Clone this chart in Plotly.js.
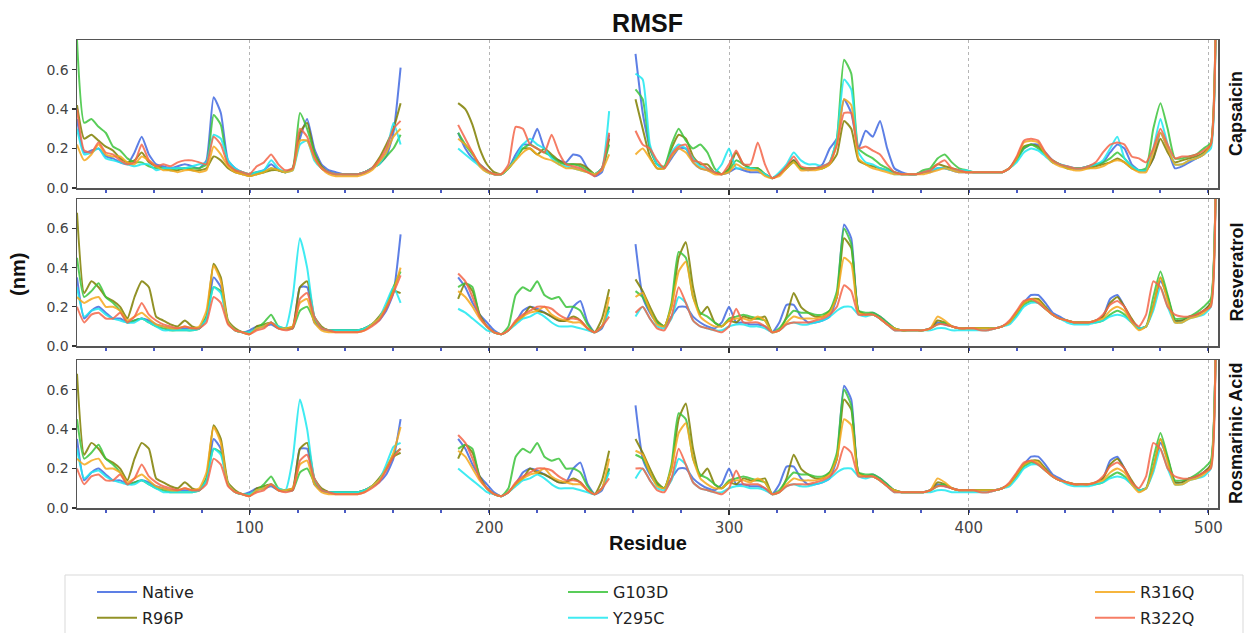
<!DOCTYPE html>
<html><head><meta charset="utf-8">
<script src="https://cdn.plot.ly/plotly-3.0.1.min.js"></script>
<style>html,body{margin:0;padding:0;background:#fff}#chart{width:1248px;height:633px}</style>
</head><body><div id="chart"></div>
<script>
// residue positions of the three resolved segments
const resA = [28,31,34,37,40,43,46,49,52,55,58,61,64,67,70,73,76,79,82,85,88,91,94,97,100,103,106,109,112,115,118,121,124,127,130,133,136,139,142,145,148,151,154,157,160,163];
const resB = [187,190,193,196,199,202,205,208,211,214,217,220,223,226,229,232,235,238,241,244,247,250];
const resC = [261,264,267,270,273,276,279,282,285,288,291,294,297,300,303,306,309,312,315,318,321,324,327,330,333,336,339,342,345,348,351,354,357,360,363,366,369,372,375,378,381,384,387,390,393,396,399,402,405,408,411,414,417,420,423,426,429,432,435,438,441,444,447,450,453,456,459,462,465,468,471,474,477,480,483,486,489,492,495,498,501,503];

const seriesNames = ['Native','R96P','G103D','Y295C','R316Q','R322Q'];
const panelNames = ['Capsaicin','Resveratrol','Rosmarinic Acid'];
const xTickVals = [100,200,300,400,500];
const xTickText = ['100','200','300','400','500'];
const yTickVals = [0,0.2,0.4,0.6];
const yTickText = ['0.0','0.2','0.4','0.6'];

// ---- Capsaicin ----
const capNativeA = [.35,.18,.19,.20,.16,.15,.13,.12,.18,.26, .17,.12,.11,.10,.11,.12,.11,.10,.14,.46, .38,.14,.10,.08,.07,.08,.09,.12,.09,.08, .10,.25,.35,.20,.12,.09,.08,.07,.07,.07, .08,.10,.12,.16,.28,.61];
const capR96PA   = [.42,.25,.27,.24,.21,.19,.15,.13,.14,.18, .13,.11,.10,.09,.09,.10,.09,.09,.10,.16, .14,.10,.08,.07,.06,.07,.08,.09,.09,.08, .10,.28,.33,.18,.11,.08,.07,.07,.07,.07, .08,.10,.15,.22,.30,.43];
const capG103DA  = [.75,.33,.35,.31,.28,.21,.19,.15,.13,.13, .11,.10,.10,.09,.10,.10,.10,.10,.12,.37, .32,.12,.09,.08,.07,.08,.08,.10,.09,.08, .10,.38,.30,.18,.10,.08,.07,.07,.07,.07, .08,.10,.12,.16,.20,.27];
const capY295CA  = [.30,.17,.18,.20,.15,.14,.13,.12,.11,.12, .12,.09,.10,.10,.10,.10,.11,.12,.13,.27, .25,.14,.10,.08,.07,.08,.09,.14,.10,.08, .09,.22,.24,.14,.10,.08,.07,.07,.07,.07, .08,.10,.12,.18,.33,.22];
const capR316QA  = [.22,.14,.17,.22,.17,.16,.16,.13,.12,.16, .14,.11,.09,.09,.08,.09,.09,.08,.09,.21, .17,.11,.08,.07,.06,.07,.08,.10,.09,.08, .09,.24,.24,.15,.10,.07,.06,.06,.06,.06, .07,.09,.13,.18,.26,.30];
const capR322QA  = [.40,.19,.18,.23,.18,.17,.14,.12,.13,.22, .14,.11,.12,.11,.13,.14,.14,.13,.12,.26, .22,.12,.09,.08,.07,.11,.13,.17,.12,.09, .10,.30,.26,.16,.10,.08,.07,.07,.07,.07, .08,.10,.14,.20,.30,.34];

const capNativeB = [.28,.20,.15,.12,.09,.07,.07,.10,.17,.22,.22,.30,.20,.16,.14,.13,.17,.16,.10,.06,.08,.27];
const capR96PB   = [.43,.40,.32,.20,.12,.08,.07,.10,.15,.20,.20,.17,.20,.17,.14,.12,.12,.12,.10,.07,.10,.25];
const capG103DB  = [.28,.22,.17,.12,.09,.07,.07,.10,.15,.20,.22,.20,.18,.16,.13,.12,.12,.11,.09,.07,.10,.22];
const capY295CB  = [.20,.17,.14,.11,.08,.07,.07,.10,.15,.22,.25,.22,.20,.15,.12,.11,.10,.09,.08,.07,.10,.39];
const capR316QB  = [.25,.22,.18,.11,.08,.07,.07,.10,.14,.18,.20,.17,.15,.14,.12,.10,.10,.09,.08,.07,.09,.17];
const capR322QB  = [.32,.25,.18,.12,.09,.07,.07,.12,.31,.30,.22,.20,.18,.27,.18,.12,.11,.10,.08,.06,.10,.28];

const capNativeC = [.68,.38,.20,.12,.10,.15,.20,.20,.13,.10, .09,.08,.07,.08,.10,.09,.08,.08,.07,.05, .07,.10,.14,.10,.09,.10,.12,.20,.25,.45, .38,.20,.29,.26,.34,.20,.10,.08,.07,.07, .08,.08,.10,.10,.09,.08,.08,.08,.08,.08, .08,.08,.10,.15,.20,.22,.22,.18,.14,.12, .11,.10,.10,.11,.12,.13,.18,.22,.20,.12, .09,.09,.15,.28,.20,.10,.11,.13,.15,.17, .22,.80];
const capR96PC   = [.45,.30,.16,.10,.10,.20,.27,.25,.16,.12, .12,.08,.07,.10,.18,.12,.10,.10,.07,.05, .07,.11,.14,.10,.10,.10,.10,.12,.17,.34, .30,.14,.12,.11,.10,.09,.08,.07,.07,.07, .08,.09,.12,.11,.10,.09,.08,.08,.08,.08, .08,.08,.10,.15,.21,.22,.21,.17,.13,.12, .10,.10,.10,.10,.11,.12,.13,.15,.13,.10, .09,.09,.15,.25,.18,.13,.14,.15,.16,.18, .22,.80];
const capG103DC  = [.50,.45,.20,.12,.11,.22,.30,.24,.20,.22, .18,.10,.07,.09,.14,.12,.10,.10,.07,.05, .07,.10,.13,.10,.10,.10,.10,.13,.25,.65, .58,.20,.17,.15,.12,.10,.08,.07,.07,.07, .09,.10,.15,.17,.13,.10,.09,.08,.08,.08, .08,.08,.10,.14,.20,.22,.20,.17,.14,.12, .10,.10,.10,.11,.12,.13,.15,.18,.15,.11, .09,.10,.30,.43,.30,.15,.15,.16,.17,.20, .23,.80];
const capY295CC  = [.58,.55,.22,.12,.10,.18,.22,.20,.15,.11, .10,.08,.12,.20,.10,.10,.10,.09,.07,.05, .08,.12,.18,.14,.12,.12,.11,.13,.25,.55, .50,.18,.13,.12,.10,.09,.07,.07,.07,.07, .08,.09,.10,.10,.09,.09,.09,.08,.08,.08, .08,.08,.10,.13,.18,.20,.19,.16,.13,.12, .11,.10,.10,.11,.12,.14,.20,.26,.15,.11, .09,.09,.20,.35,.22,.12,.12,.14,.15,.17, .20,.80];
const capR316QC  = [.17,.20,.15,.10,.10,.16,.20,.18,.13,.10, .09,.07,.07,.08,.12,.10,.09,.09,.06,.05, .06,.10,.13,.09,.09,.09,.10,.12,.22,.45, .42,.15,.12,.10,.09,.08,.07,.07,.07,.07, .07,.08,.09,.10,.09,.08,.08,.08,.08,.08, .08,.08,.10,.15,.23,.24,.23,.17,.13,.11, .10,.09,.09,.10,.10,.11,.13,.14,.13,.10, .08,.08,.18,.28,.20,.12,.12,.14,.15,.17, .22,.80];
const capR322QC  = [.29,.22,.20,.14,.10,.17,.21,.22,.14,.13, .10,.08,.07,.12,.19,.12,.12,.23,.12,.05, .07,.11,.16,.11,.10,.10,.11,.13,.22,.38, .38,.20,.21,.19,.17,.12,.08,.07,.07,.07, .08,.09,.12,.14,.10,.09,.08,.08,.08,.08, .08,.08,.10,.16,.24,.25,.24,.18,.14,.12, .11,.10,.10,.11,.13,.18,.22,.23,.22,.16, .15,.13,.20,.30,.22,.15,.16,.16,.17,.19, .22,.80];

// ---- Resveratrol ----
const resNativeA = [.35,.14,.18,.20,.17,.14,.14,.12,.13,.14, .13,.11,.10,.09,.09,.09,.09,.09,.14,.35, .30,.12,.08,.07,.08,.10,.10,.11,.09,.09, .09,.30,.30,.12,.09,.08,.08,.08,.08,.08, .09,.11,.13,.18,.27,.57];
const resR96PA   = [.68,.27,.33,.30,.25,.23,.20,.14,.25,.33, .30,.15,.13,.11,.10,.13,.10,.09,.15,.42, .35,.13,.09,.07,.06,.10,.11,.12,.09,.09, .10,.30,.33,.15,.10,.08,.08,.08,.08,.08, .09,.11,.15,.20,.28,.27];
const resG103DA  = [.45,.25,.28,.32,.25,.22,.18,.12,.13,.14, .12,.10,.09,.08,.08,.08,.08,.09,.15,.30, .28,.12,.08,.07,.07,.09,.12,.16,.10,.09, .09,.18,.20,.13,.09,.08,.08,.08,.08,.08, .09,.11,.14,.20,.30,.38];
const resY295CA  = [.30,.15,.18,.19,.16,.14,.13,.12,.12,.14, .12,.10,.08,.08,.08,.08,.08,.09,.14,.30, .27,.12,.08,.07,.07,.09,.10,.12,.10,.09, .25,.55,.40,.15,.09,.08,.08,.08,.08,.08, .09,.11,.14,.22,.30,.22];
const resR316QA  = [.25,.22,.24,.25,.20,.20,.18,.13,.15,.17, .14,.11,.10,.09,.09,.10,.09,.10,.18,.41, .33,.12,.08,.07,.06,.09,.10,.12,.09,.09, .10,.22,.24,.12,.08,.07,.07,.07,.07,.07, .08,.11,.14,.20,.28,.40];
const resR322QA  = [.20,.12,.16,.17,.14,.14,.17,.12,.15,.22, .16,.13,.11,.10,.09,.10,.09,.09,.12,.25, .22,.11,.08,.07,.06,.08,.09,.12,.09,.08, .09,.24,.27,.15,.09,.08,.07,.07,.07,.07, .08,.10,.13,.19,.27,.36];

const resNativeB = [.35,.30,.22,.16,.12,.08,.06,.08,.12,.18,.20,.19,.17,.15,.13,.13,.20,.23,.12,.07,.09,.20];
const resR96PB   = [.24,.32,.28,.16,.10,.07,.06,.08,.12,.15,.20,.18,.17,.15,.13,.13,.15,.13,.09,.07,.14,.29];
const resG103DB  = [.30,.32,.30,.15,.10,.07,.06,.10,.26,.30,.28,.33,.26,.24,.25,.20,.20,.18,.11,.07,.10,.20];
const resY295CB  = [.19,.17,.14,.11,.08,.07,.06,.08,.11,.14,.15,.17,.15,.12,.10,.10,.10,.09,.08,.07,.10,.18];
const resR316QB  = [.28,.25,.20,.14,.10,.07,.06,.08,.12,.15,.17,.18,.20,.16,.14,.13,.12,.12,.09,.07,.10,.25];
const resR322QB  = [.37,.33,.25,.15,.10,.07,.06,.08,.13,.16,.18,.20,.20,.19,.16,.14,.14,.13,.09,.07,.10,.15];

const resNativeC = [.52,.25,.17,.12,.10,.15,.20,.20,.15,.12, .10,.09,.12,.20,.12,.12,.11,.11,.10,.07, .12,.21,.21,.15,.12,.12,.13,.15,.25,.62, .55,.18,.16,.17,.15,.12,.09,.08,.08,.08, .08,.09,.12,.11,.10,.09,.09,.09,.09,.09, .09,.10,.12,.17,.22,.26,.26,.22,.17,.15, .13,.12,.12,.12,.13,.15,.24,.26,.20,.13, .09,.10,.20,.33,.25,.13,.13,.15,.16,.18, .22,.80];
const resR96PC   = [.34,.28,.20,.13,.10,.20,.45,.53,.30,.16, .20,.12,.10,.13,.12,.15,.14,.14,.15,.07, .08,.15,.27,.20,.17,.15,.15,.18,.25,.55, .50,.18,.16,.16,.14,.11,.09,.08,.08,.08, .08,.09,.13,.12,.10,.09,.09,.09,.09,.09, .09,.10,.12,.17,.22,.24,.24,.20,.16,.14, .13,.12,.12,.12,.13,.15,.22,.25,.20,.14, .09,.10,.20,.35,.25,.13,.13,.15,.16,.18, .22,.80];
const resG103DC  = [.28,.25,.18,.12,.10,.22,.48,.45,.25,.17, .15,.12,.10,.14,.15,.16,.15,.14,.13,.07, .09,.14,.18,.17,.17,.16,.16,.18,.28,.60, .52,.18,.17,.17,.15,.12,.09,.08,.08,.08, .08,.09,.11,.12,.10,.09,.09,.09,.09,.09, .09,.10,.12,.16,.21,.23,.22,.19,.16,.14, .13,.12,.12,.12,.12,.13,.16,.18,.16,.12, .09,.10,.25,.38,.26,.14,.14,.15,.17,.20, .24,.80];
const resY295CC  = [.15,.20,.14,.10,.09,.14,.25,.22,.13,.10, .09,.08,.08,.10,.11,.11,.10,.10,.09,.07, .08,.11,.12,.11,.11,.12,.13,.15,.18,.20, .20,.16,.15,.16,.14,.11,.08,.08,.08,.08, .08,.08,.09,.09,.08,.08,.08,.08,.08,.08, .09,.10,.11,.15,.20,.22,.22,.19,.16,.14, .12,.11,.11,.11,.12,.13,.15,.16,.15,.12, .09,.10,.18,.30,.20,.12,.12,.14,.15,.16, .20,.80];
const resR316QC  = [.25,.27,.18,.11,.10,.20,.38,.43,.25,.15, .12,.10,.10,.13,.14,.14,.13,.15,.13,.07, .08,.12,.15,.14,.14,.14,.15,.17,.25,.45, .42,.17,.16,.16,.14,.11,.09,.08,.08,.08, .08,.09,.15,.13,.10,.09,.09,.09,.09,.09, .09,.10,.12,.17,.22,.24,.23,.19,.16,.14, .13,.12,.12,.12,.13,.14,.18,.20,.18,.12, .08,.10,.20,.35,.23,.12,.12,.14,.15,.17, .21,.80];
const resR322QC  = [.17,.20,.14,.09,.08,.15,.30,.22,.13,.10, .09,.08,.07,.10,.19,.12,.12,.12,.10,.07, .08,.11,.12,.12,.12,.13,.14,.16,.20,.31, .28,.16,.16,.16,.14,.11,.08,.08,.08,.08, .08,.09,.11,.11,.10,.09,.09,.09,.08,.08, .09,.10,.13,.18,.23,.24,.22,.19,.16,.14, .13,.12,.12,.12,.13,.16,.21,.23,.20,.13, .10,.16,.33,.30,.20,.16,.15,.15,.16,.18, .20,.80];

// ---- Rosmarinic Acid ----
const rosNativeA = [.35,.14,.18,.20,.17,.14,.14,.12,.13,.14, .13,.11,.10,.09,.09,.09,.09,.09,.14,.35, .30,.12,.08,.07,.08,.10,.10,.11,.09,.09, .09,.30,.30,.12,.09,.08,.08,.08,.08,.08, .09,.11,.13,.17,.25,.45];
const rosR96PA   = [.68,.27,.33,.30,.25,.23,.20,.14,.25,.33, .30,.15,.13,.11,.10,.13,.10,.09,.15,.42, .35,.13,.09,.07,.06,.10,.11,.12,.09,.09, .10,.30,.33,.15,.10,.08,.08,.08,.08,.08, .09,.11,.15,.20,.26,.28];
const rosG103DA  = [.45,.25,.28,.32,.25,.22,.18,.12,.13,.14, .12,.10,.09,.08,.08,.08,.08,.09,.15,.30, .28,.12,.08,.07,.07,.09,.12,.16,.10,.09, .09,.18,.20,.13,.09,.08,.08,.08,.08,.08, .09,.11,.14,.20,.27,.30];
const rosY295CA  = [.30,.15,.18,.19,.16,.14,.13,.12,.12,.14, .12,.10,.08,.08,.08,.08,.08,.09,.14,.30, .27,.12,.08,.07,.07,.09,.10,.12,.10,.09, .25,.55,.40,.15,.09,.08,.08,.08,.08,.08, .09,.11,.14,.22,.31,.33];
const rosR316QA  = [.25,.22,.24,.25,.20,.20,.18,.13,.15,.17, .14,.11,.10,.09,.09,.10,.09,.10,.18,.41, .33,.12,.08,.07,.06,.09,.10,.12,.09,.09, .10,.22,.24,.12,.08,.07,.07,.07,.07,.07, .08,.11,.14,.20,.28,.41];
const rosR322QA  = [.20,.12,.16,.17,.14,.14,.17,.12,.15,.22, .16,.13,.11,.10,.09,.10,.09,.09,.12,.25, .22,.11,.08,.07,.06,.08,.09,.12,.09,.08, .09,.24,.27,.15,.09,.08,.07,.07,.07,.07, .08,.10,.13,.19,.26,.30];

const rosNativeB = [.35,.30,.22,.16,.12,.08,.06,.08,.12,.18,.20,.19,.17,.15,.13,.13,.20,.23,.12,.07,.09,.20];
const rosR96PB   = [.25,.32,.28,.16,.10,.07,.06,.08,.12,.15,.20,.18,.17,.15,.13,.13,.15,.13,.09,.07,.14,.29];
const rosG103DB  = [.30,.32,.30,.15,.10,.07,.06,.10,.26,.30,.28,.33,.26,.24,.25,.20,.20,.18,.11,.07,.10,.20];
const rosY295CB  = [.20,.17,.14,.11,.08,.07,.06,.08,.11,.14,.15,.17,.15,.12,.10,.10,.10,.09,.08,.07,.10,.18];
const rosR316QB  = [.29,.26,.20,.14,.10,.07,.06,.08,.12,.15,.17,.18,.20,.16,.14,.13,.12,.12,.09,.07,.10,.25];
const rosR322QB  = [.37,.33,.25,.15,.10,.07,.06,.08,.13,.16,.18,.20,.20,.19,.16,.14,.14,.13,.09,.07,.10,.15];

const rosNativeC = [.52,.25,.17,.12,.10,.15,.20,.20,.15,.12, .10,.09,.12,.20,.12,.12,.11,.11,.10,.07, .12,.21,.21,.15,.12,.12,.13,.15,.25,.62, .55,.18,.16,.17,.15,.12,.09,.08,.08,.08, .08,.09,.12,.11,.10,.09,.09,.09,.09,.09, .09,.10,.12,.17,.22,.26,.26,.22,.17,.15, .13,.12,.12,.12,.13,.15,.24,.26,.20,.13, .09,.10,.20,.33,.25,.13,.13,.15,.16,.18, .22,.80];
const rosR96PC   = [.35,.28,.20,.13,.10,.20,.45,.53,.30,.16, .20,.12,.10,.13,.12,.15,.14,.14,.15,.07, .08,.15,.27,.20,.17,.15,.15,.18,.25,.55, .50,.18,.16,.16,.14,.11,.09,.08,.08,.08, .08,.09,.13,.12,.10,.09,.09,.09,.09,.09, .09,.10,.12,.17,.22,.24,.24,.20,.16,.14, .13,.12,.12,.12,.13,.15,.22,.25,.20,.14, .09,.10,.20,.35,.25,.13,.13,.15,.16,.18, .22,.80];
const rosG103DC  = [.27,.25,.18,.12,.10,.22,.48,.45,.25,.17, .15,.12,.10,.14,.15,.16,.15,.14,.13,.07, .09,.14,.18,.17,.17,.16,.16,.18,.28,.60, .52,.18,.17,.17,.15,.12,.09,.08,.08,.08, .08,.09,.11,.12,.10,.09,.09,.09,.09,.09, .09,.10,.12,.16,.21,.23,.22,.19,.16,.14, .13,.12,.12,.12,.12,.13,.16,.18,.16,.12, .09,.10,.25,.38,.26,.14,.14,.15,.17,.20, .24,.80];
const rosY295CC  = [.15,.20,.14,.10,.09,.14,.25,.22,.13,.10, .09,.08,.08,.10,.11,.11,.10,.10,.09,.07, .08,.11,.12,.11,.11,.12,.13,.15,.18,.20, .20,.16,.15,.16,.14,.11,.08,.08,.08,.08, .08,.08,.09,.09,.08,.08,.08,.08,.08,.08, .09,.10,.11,.15,.20,.22,.22,.19,.16,.14, .12,.11,.11,.11,.12,.13,.15,.16,.15,.12, .09,.10,.18,.30,.20,.12,.12,.14,.15,.16, .20,.80];
const rosR316QC  = [.29,.27,.18,.11,.10,.20,.38,.43,.25,.15, .12,.10,.10,.13,.14,.14,.13,.15,.13,.07, .08,.12,.15,.14,.14,.14,.15,.17,.25,.45, .42,.17,.16,.16,.14,.11,.09,.08,.08,.08, .08,.09,.15,.13,.10,.09,.09,.09,.09,.09, .09,.10,.12,.17,.22,.24,.23,.19,.16,.14, .13,.12,.12,.12,.13,.14,.18,.20,.18,.12, .08,.10,.20,.35,.23,.12,.12,.14,.15,.17, .21,.80];
const rosR322QC  = [.20,.20,.14,.09,.08,.15,.30,.22,.13,.10, .09,.08,.07,.10,.19,.12,.12,.12,.10,.07, .08,.11,.12,.12,.12,.13,.14,.16,.20,.31, .28,.16,.16,.16,.14,.11,.08,.08,.08,.08, .08,.09,.11,.11,.10,.09,.09,.09,.08,.08, .09,.10,.13,.18,.23,.24,.22,.19,.16,.14, .13,.12,.12,.12,.13,.16,.21,.23,.20,.13, .10,.16,.33,.30,.20,.16,.15,.15,.16,.18, .20,.80];

// ---- assembly ----
const join3 = (a, b, c) => a.concat([null], b, [null], c);
const residues = join3(resA, resB, resC);

const panelSeries = [
  [join3(capNativeA,capNativeB,capNativeC), join3(capR96PA,capR96PB,capR96PC), join3(capG103DA,capG103DB,capG103DC),
   join3(capY295CA,capY295CB,capY295CC), join3(capR316QA,capR316QB,capR316QC), join3(capR322QA,capR322QB,capR322QC)],
  [join3(resNativeA,resNativeB,resNativeC), join3(resR96PA,resR96PB,resR96PC), join3(resG103DA,resG103DB,resG103DC),
   join3(resY295CA,resY295CB,resY295CC), join3(resR316QA,resR316QB,resR316QC), join3(resR322QA,resR322QB,resR322QC)],
  [join3(rosNativeA,rosNativeB,rosNativeC), join3(rosR96PA,rosR96PB,rosR96PC), join3(rosG103DA,rosG103DB,rosG103DC),
   join3(rosY295CA,rosY295CB,rosY295CC), join3(rosR316QA,rosR316QB,rosR316QC), join3(rosR322QA,rosR322QB,rosR322QC)]
];

const colors = ['#4169e1','#7f7f00','#3cc43c','#1ee8f0','#f5a81c','#f4664a'];
const legendFor = ['legend','legend','legend2','legend2','legend3','legend3'];
const axisIds = [['x3','y3'],['x2','y2'],['x','y']];

const traces = [];
panelSeries.forEach((series, p) => {
  series.forEach((vals, s) => {
    traces.push({
      type: 'scatter', mode: 'lines',
      x: residues, y: vals,
      name: seriesNames[s],
      xaxis: axisIds[p][0], yaxis: axisIds[p][1],
      line: {color: colors[s], width: 2, shape: 'spline', smoothing: 0.5},
      opacity: 0.85,
      connectgaps: false,
      showlegend: p === 0,
      legend: legendFor[s],
      legendgroup: seriesNames[s],
      hoverinfo: 'skip'
    });
  });
});

const M = {l: 77, r: 30, t: 40, b: 125, autoexpand: false};
const plotH = 633 - M.t - M.b;
const py = px => (633 - M.b - px) / plotH;   // pixel row -> paper y
const pxX = px => (px - M.l) / (1248 - M.l - M.r);

const xBase = (anchor, labels) => ({
  anchor: anchor, domain: [0, 1], range: [28, 504],
  tickmode: 'array', tickvals: xTickVals, ticktext: xTickText,
  showticklabels: labels,
  ticks: 'outside', ticklen: 5, tickwidth: 1.5, tickcolor: '#333',
  minor: {tickmode: 'linear', tick0: 0, dtick: 20, ticks: 'outside', ticklen: 3, tickwidth: 2, tickcolor: '#4a5bc4', showgrid: false},
  showgrid: true, gridcolor: '#b5b5b5', griddash: 'dot', gridwidth: 1,
  showline: true, mirror: true, linecolor: '#555', linewidth: 1.5,
  zeroline: false, fixedrange: true,
  tickfont: {family: 'DejaVu Sans, sans-serif', size: 15, color: '#444'}
});
const yBase = (anchor, dom) => ({
  anchor: anchor, domain: dom, range: [0, 0.75],
  tickmode: 'array', tickvals: yTickVals, ticktext: yTickText,
  ticks: 'outside', ticklen: 4, tickwidth: 1.2, tickcolor: '#333',
  showgrid: false, zeroline: false,
  showline: true, mirror: true, linecolor: '#555', linewidth: 1.5, fixedrange: true,
  tickfont: {family: 'DejaVu Sans, sans-serif', size: 14, color: '#444'}
});

const dom1 = [py(188), py(40)], dom2 = [py(346), py(199)], dom3 = [py(508), py(360)];
const boldFont = (sz) => ({family: 'Liberation Sans, Arial, sans-serif', size: sz, color: '#111', weight: 'bold'});
const legendCommon = {
  orientation: 'v', xanchor: 'left', yanchor: 'top', y: py(575),
  bgcolor: 'rgba(0,0,0,0)', borderwidth: 0, traceorder: 'grouped', tracegroupgap: 2,
  font: {family: 'DejaVu Sans, sans-serif', size: 16, color: '#222'}, itemwidth: 40
};

const layout = {
  width: 1248, height: 633, margin: M,
  paper_bgcolor: '#fff', plot_bgcolor: '#fff',
  title: {text: 'RMSF', font: boldFont(25), x: 0.5, xref: 'paper', xanchor: 'center', y: 1 - 23/633, yref: 'container', yanchor: 'middle'},
  xaxis: xBase('y', true), yaxis: yBase('x', dom3),
  xaxis2: xBase('y2', false), yaxis2: yBase('x2', dom2),
  xaxis3: xBase('y3', false), yaxis3: yBase('x3', dom1),
  legend: Object.assign({}, legendCommon, {x: pxX(92)}),
  legend2: Object.assign({}, legendCommon, {x: pxX(563)}),
  legend3: Object.assign({}, legendCommon, {x: pxX(1090)}),
  shapes: [{type: 'rect', xref: 'paper', yref: 'paper', x0: pxX(65), x1: pxX(1243), y0: py(575), y1: py(660),
            line: {color: '#d9d9d9', width: 1}, fillcolor: 'rgba(0,0,0,0)', layer: 'below'}],
  annotations: [
    {text: 'Residue', xref: 'paper', yref: 'paper', x: 0.5, y: py(543), xanchor: 'center', yanchor: 'middle', showarrow: false, font: boldFont(20)},
    {text: '(nm)', xref: 'paper', yref: 'paper', x: pxX(18), y: py(275), xanchor: 'center', yanchor: 'middle', textangle: -90, showarrow: false, font: boldFont(20)},
    {text: panelNames[0], xref: 'paper', yref: 'paper', x: pxX(1236), y: (dom1[0]+dom1[1])/2, xanchor: 'center', yanchor: 'middle', textangle: -90, showarrow: false, font: boldFont(18)},
    {text: panelNames[1], xref: 'paper', yref: 'paper', x: pxX(1236), y: (dom2[0]+dom2[1])/2, xanchor: 'center', yanchor: 'middle', textangle: -90, showarrow: false, font: boldFont(18)},
    {text: panelNames[2], xref: 'paper', yref: 'paper', x: pxX(1236), y: (dom3[0]+dom3[1])/2, xanchor: 'center', yanchor: 'middle', textangle: -90, showarrow: false, font: boldFont(18)}
  ],
  hovermode: false
};

Plotly.newPlot('chart', traces, layout, {staticPlot: true, displayModeBar: false});
</script></body></html>
